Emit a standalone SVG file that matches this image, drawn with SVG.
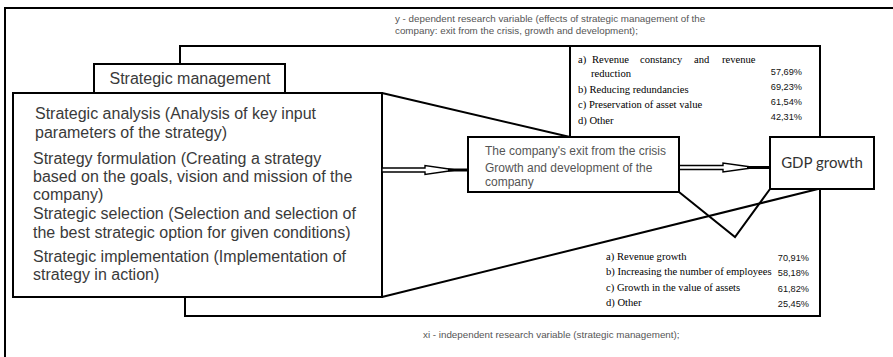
<svg xmlns="http://www.w3.org/2000/svg" width="893" height="357" viewBox="0 0 893 357">
<style>
.ln{fill:none;stroke:#000;stroke-width:2}
.box{fill:#fff;stroke:#000;stroke-width:2}
.sans{font-family:"Liberation Sans",Arial,sans-serif}
.big{font-size:16px;fill:#3a3a3a}
.mid{font-size:12px;fill:#555}
.note{font-size:9.8px;fill:#555}
.ser{font-family:"Liberation Serif","Times New Roman",serif;font-size:10.6px;fill:#000}
.pct{font-family:"Liberation Sans",Arial,sans-serif;font-size:9.2px;fill:#111;text-anchor:end}
.arr{fill:#fff;stroke:#000;stroke-width:1.4}
</style>
<rect width="893" height="357" fill="#fff"/>
<g id="outer-frame">
<path class="ln" d="M5,357 V8 H893"/>
<text class="sans note" x="395" y="22">y - dependent research variable (effects of strategic management of the</text>
<text class="sans note" x="395" y="34">company: exit from the crisis, growth and development);</text>
<text class="sans note" x="423" y="338">xi - independent research variable (strategic management);</text>
</g>
<g id="effects-crisis-list">
<path class="ln" d="M180,64 V46 H820 V137"/>
<path class="ln" d="M570,46 V137"/>
<text class="ser" y="63"><tspan x="578">a)</tspan><tspan x="592">Revenue</tspan><tspan x="640">constancy</tspan><tspan x="694">and</tspan><tspan x="722">revenue</tspan></text>
<text class="ser" x="591" y="77">reduction</text>
<text class="ser" x="578" y="93">b) Reducing redundancies</text>
<text class="ser" x="578" y="108">c) Preservation of asset value</text>
<text class="ser" x="578" y="124">d) Other</text>
<text class="pct" x="802" y="75">57,69%</text>
<text class="pct" x="802" y="90">69,23%</text>
<text class="pct" x="802" y="105">61,54%</text>
<text class="pct" x="802" y="120">42,31%</text>
</g>
<g id="effects-growth-list">
<path class="ln" d="M185,297 V316 H820 V189"/>
<text class="ser" x="606" y="260">a) Revenue growth</text>
<text class="ser" x="606" y="275">b) Increasing the number of employees</text>
<text class="ser" x="606" y="291">c) Growth in the value of assets</text>
<text class="ser" x="606" y="306">d) Other</text>
<text class="pct" x="809" y="261">70,91%</text>
<text class="pct" x="809" y="276">58,18%</text>
<text class="pct" x="809" y="292">61,82%</text>
<text class="pct" x="809" y="307">25,45%</text>
</g>
<g id="strategic-management">
<rect class="box" x="94" y="64" width="191" height="29"/>
<text class="sans big" x="190" y="84" text-anchor="middle">Strategic management</text>
</g>
<g id="strategy-phases">
<rect class="box" x="13" y="93" width="369" height="204"/>
<text class="sans big" x="35" y="119">Strategic analysis (Analysis of key input</text>
<text class="sans big" x="35" y="138">parameters of the strategy)</text>
<text class="sans big" x="33" y="164">Strategy formulation (Creating a strategy</text>
<text class="sans big" x="33" y="182">based on the goals, vision and mission of the</text>
<text class="sans big" x="33" y="200">company)</text>
<text class="sans big" x="33" y="219">Strategic selection (Selection and selection of</text>
<text class="sans big" x="33" y="238">the best strategic option for given conditions)</text>
<text class="sans big" x="33" y="262">Strategic implementation (Implementation of</text>
<text class="sans big" x="33" y="280">strategy in action)</text>
</g>
<g id="connectors">
<path class="ln" d="M382,93 L570,137"/>
<path class="ln" d="M382,297 L818,189"/>
<path class="ln" d="M679,192 L735,237 L770,189"/>
<path class="arr" d="M382,168 H425 V165.5 L456,170 L425,174.5 V172 H382 Z"/>
<path d="M448,170 H468" stroke="#000" stroke-width="3"/>
<path class="arr" d="M679,165.5 H723 V163 L755,167.5 L723,172 V169.5 H679 Z"/>
<path d="M747,167.5 H770" stroke="#000" stroke-width="3"/>
</g>
<g id="company-exit">
<rect class="box" x="468" y="137" width="211" height="55"/>
<text class="sans mid" x="485" y="155">The company's exit from the crisis</text>
<text class="sans mid" x="485" y="172">Growth and development of the</text>
<text class="sans mid" x="485" y="186">company</text>
</g>
<g id="gdp-growth">
<rect class="box" x="770" y="137" width="104" height="52"/>
<text x="822" y="168" text-anchor="middle" font-family="Lato,'Open Sans',sans-serif" font-size="15" fill="#333">GDP growth</text>
</g>
</svg>
